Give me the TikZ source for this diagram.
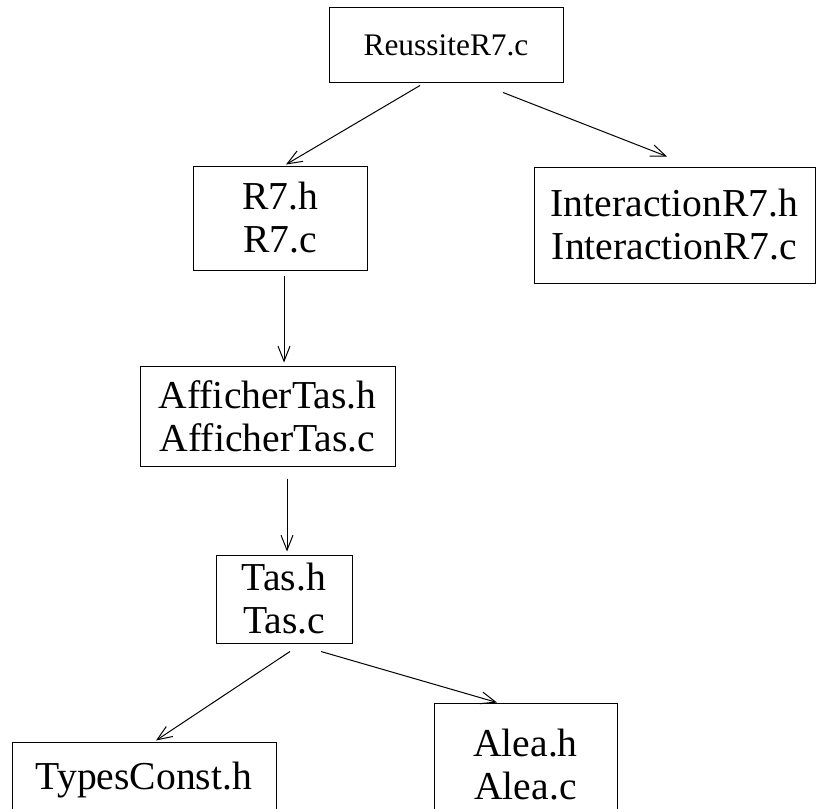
\documentclass[tikz,border=0pt]{standalone}
\usepackage{fontspec}
\setmainfont{Liberation Serif}
\usetikzlibrary{arrows.meta,calc}

\tikzset{
  filebox/.style={draw,line width=0.5pt,inner sep=0pt,align=center,
    font=\fontsize{19.8}{21.5}\selectfont},
  dep/.style={-{Straight Barb[length=7.5pt,width=6pt]},line width=0.5pt}
}

\begin{document}
\begin{tikzpicture}[x=0.5pt,y=-0.5pt]
        \clip (0,0) rectangle (824,808);
        \node [filebox,minimum width=117pt,minimum height=37.5pt,font=\fontsize{15.7}{18}\selectfont] (main) at (446,45.5) {ReussiteR7.c};
        \node [filebox,minimum width=87pt,minimum height=52pt] (r7) at (280,218) {R7.h\\R7.c};
        \node [filebox,minimum width=140.5pt,minimum height=58pt] (inter) at (674.5,225) {InteractionR7.h\\InteractionR7.c};
        \node [filebox,minimum width=127.5pt,minimum height=50pt] (aff) at (267.5,416) {AfficherTas.h\\AfficherTas.c};
        \node [filebox,minimum width=68pt,minimum height=44pt] (tas) at (284,599) {Tas.h\\Tas.c};
        \node [filebox,minimum width=132pt,minimum height=38pt] (types) at (144,780) {TypesConst.h};
        \node [filebox,minimum width=91.5pt,minimum height=62pt] (alea) at (525.5,765) {Alea.h\\Alea.c};
        \draw[dep] ($(main.south)+(-26,2)$) -- ($(r7.north)+(6,-1)$);
        \draw[dep] ($(main.south)+(57,9)$) -- ($(inter.north)+(-7.5,-10)$);
        \draw[dep] ($(r7.south)+(4,5)$) -- ($(aff.north)+(16.5,-3)$);
        \draw[dep] ($(aff.south)+(19.5,12)$) -- ($(tas.north)+(3,-3)$);
        \draw[dep] ($(tas.south)+(6,8)$) -- ($(types.north)+(12,-1)$);
        \draw[dep] ($(tas.south)+(37,8)$) -- ($(alea.north)+(-28.5,0)$);
        \end{tikzpicture}
\end{document}
